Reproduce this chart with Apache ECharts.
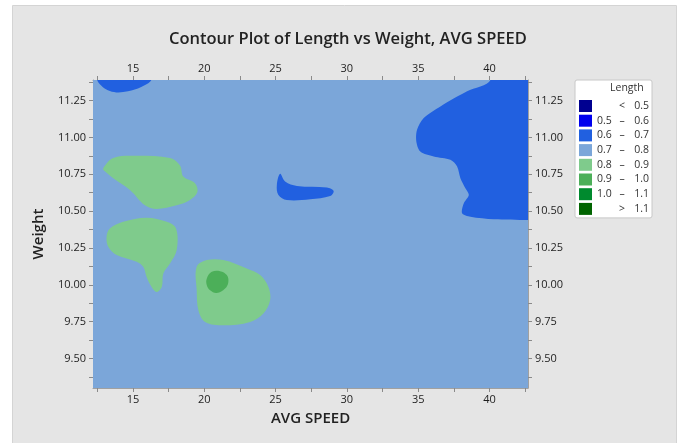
<!DOCTYPE html>
<html>
<head>
<meta charset="utf-8">
<script src="https://cdn.jsdelivr.net/npm/echarts@6/dist/echarts.min.js"></script>
<style>
  html, body { margin: 0; padding: 0; background: #ffffff; }
  #main { width: 683px; height: 443px; }
</style>
</head>
<body>
<div id="main"></div>
<script>
// ---------- data ----------
const xRange = [12.2, 42.7];
const yRange = [9.30, 11.39];
const xLabelValues = [15, 20, 25, 30, 35, 40];
const xTickValues = [12.5, 15, 17.5, 20, 22.5, 25, 27.5, 30, 32.5, 35, 37.5, 40, 42.5];
const yLabelValues = [9.5, 9.75, 10, 10.25, 10.5, 10.75, 11, 11.25];
const yTickValues = [9.375, 9.5, 9.625, 9.75, 9.875, 10, 10.125, 10.25, 10.375, 10.5, 10.625, 10.75, 10.875, 11, 11.125, 11.25, 11.375];

const bandNames = ['< 0.5', '0.5 – 0.6', '0.6 – 0.7', '0.7 – 0.8', '0.8 – 0.9', '0.9 – 1.0', '1.0 – 1.1', '> 1.1'];

// contour regions (AVG SPEED, Weight)
const regionBase = [[xRange[0], yRange[0]], [xRange[1], yRange[0]], [xRange[1], yRange[1]], [xRange[0], yRange[1]]];
const regionBlueTopLeft = [[12.3, 11.5], [12.49, 11.39], [12.77, 11.352], [13.24, 11.320], [13.83, 11.306], [14.65, 11.313], [15.58, 11.343], [16.29, 11.39], [16.5, 11.5]];
const regionBlueRight = [[39.8, 11.6], [40.07, 11.39], [38.43, 11.313], [36.56, 11.211], [35.39, 11.132], [34.92, 11.053], [34.87, 10.973], [35.15, 10.905], [36.09, 10.871], [37.26, 10.848], [37.73, 10.803], [37.96, 10.724], [38.31, 10.656], [38.55, 10.610], [38.20, 10.554], [38.08, 10.486], [38.67, 10.462], [40.30, 10.445], [42.7, 10.44], [43.2, 10.44], [43.2, 11.6]];
const regionBlueMid = [[25.32, 10.753], [25.67, 10.701], [26.50, 10.671], [28.60, 10.660], [29.07, 10.637], [28.83, 10.603], [27.43, 10.581], [25.79, 10.576], [25.20, 10.610], [25.09, 10.678]];
const regionGreenTop = [[12.91, 10.79], [13.62, 10.86], [15.02, 10.876], [17.60, 10.86], [18.30, 10.81], [18.53, 10.735], [19.35, 10.69], [19.52, 10.63], [19.0, 10.576], [18.07, 10.54], [16.66, 10.515], [15.84, 10.54], [14.79, 10.644], [13.62, 10.724], [13.03, 10.77]];
const regionGreenMid = [[13.15, 10.326], [13.38, 10.383], [14.32, 10.428], [15.96, 10.456], [17.37, 10.428], [18.02, 10.383], [18.07, 10.236], [17.60, 10.145], [17.13, 10.077], [17.02, 9.986], [16.66, 9.952], [16.31, 9.986], [15.96, 10.054], [15.72, 10.122], [15.26, 10.156], [13.86, 10.202], [13.27, 10.258]];
const regionGreenLow = [[19.47, 10.122], [20.18, 10.168], [21.34, 10.168], [22.98, 10.111], [23.92, 10.066], [24.50, 9.986], [24.62, 9.895], [24.15, 9.805], [23.22, 9.748], [21.34, 9.725], [20.06, 9.748], [19.59, 9.827], [19.47, 9.963]];
const regionDarkGreen = [[20.18, 10.043], [20.53, 10.088], [21.11, 10.093], [21.58, 10.066], [21.69, 10.020], [21.46, 9.975], [20.88, 9.945], [20.41, 9.963], [20.18, 9.997]];

// ---------- styles ----------
const bandColors = ['#000090', '#0000ee', '#2160e0', '#7ba6d9', '#7fcb8c', '#4caf59', '#008a2e', '#006400'];
const FONT = '"Open Sans", "Liberation Sans", sans-serif';

function regionSeries(bandIndex, region, smooth) {
  return {
    type: 'custom',
    name: bandNames[bandIndex],
    xAxisIndex: 0,
    yAxisIndex: 0,
    itemStyle: { color: bandColors[bandIndex] },
    data: region,
    silent: true,
    renderItem: function (params, api) {
      if (params.dataIndex !== 0) return null;
      const pts = region.map(function (p) { return api.coord(p); });
      const cs = params.coordSys;
      return {
        type: 'polygon',
        shape: { points: pts, smooth: smooth },
        style: { fill: bandColors[bandIndex], stroke: null },
        clipPath: { type: 'rect', shape: { x: cs.x, y: cs.y, width: cs.width, height: cs.height } }
      };
    }
  };
}
function emptySeries(bandIndex) {
  return {
    type: 'custom', name: bandNames[bandIndex], data: [],
    itemStyle: { color: bandColors[bandIndex] },
    renderItem: function () { return null; }
  };
}

const axisLabelStyle = { color: '#1e1e1e', fontSize: 11, fontFamily: FONT };
function xAxisDef(pos, withName) {
  return {
    type: 'value', position: pos, min: xRange[0], max: xRange[1],
    axisLine: { show: true, onZero: false, lineStyle: { color: '#a0a0a0', width: 1 } },
    axisTick: { show: true, length: 4, customValues: xTickValues, lineStyle: { color: '#8a8a8a' } },
    axisLabel: Object.assign({ customValues: xLabelValues, margin: 6 }, axisLabelStyle),
    splitLine: { show: false },
    name: withName ? 'AVG SPEED' : '',
    nameLocation: 'middle', nameGap: 23,
    nameTextStyle: { fontSize: 15, fontWeight: 600, color: '#222', fontFamily: FONT }
  };
}
function yAxisDef(pos, withName) {
  return {
    type: 'value', position: pos, min: yRange[0], max: yRange[1],
    axisLine: { show: true, onZero: false, lineStyle: { color: '#a0a0a0', width: 1 } },
    axisTick: { show: true, length: 4, customValues: yTickValues, lineStyle: { color: '#8a8a8a' } },
    axisLabel: Object.assign({ customValues: yLabelValues, margin: 7, formatter: function (v) { return v.toFixed(2); } }, axisLabelStyle),
    splitLine: { show: false },
    name: withName ? 'Weight' : '',
    nameLocation: 'middle', nameGap: 47,
    nameTextStyle: { fontSize: 15, fontWeight: 600, color: '#222', fontFamily: FONT }
  };
}

const chart = echarts.init(document.getElementById('main'), null, { renderer: 'canvas' });
chart.setOption({
  backgroundColor: '#ffffff',
  animation: false,
  graphic: [
    { type: 'rect', z: -10, silent: true, shape: { x: 12.5, y: 5.5, width: 664, height: 440 },
      style: { fill: '#e5e5e5', stroke: '#d4d4d4', lineWidth: 1 } },
    { type: 'text', z: 100, left: 610, top: 83, silent: true,
      style: { text: 'Length', fontSize: 10.5, fill: '#333', fontFamily: FONT } }
  ],
  title: {
    text: 'Contour Plot of Length vs Weight, AVG SPEED',
    left: 164, top: 26,
    textStyle: { fontSize: 16.5, fontWeight: 600, color: '#222', fontFamily: FONT }
  },
  grid: { left: 93, right: 155, top: 80, bottom: 55, containLabel: false },
  xAxis: [xAxisDef('bottom', true), xAxisDef('top', false)],
  yAxis: [yAxisDef('left', true), yAxisDef('right', false)],
  legend: {
    data: bandNames, orient: 'vertical', left: 575, top: 80,
    icon: 'rect', itemWidth: 13, itemHeight: 12, itemGap: 2.7,
    padding: [20, 3, 3, 4],
    backgroundColor: '#ffffff', borderColor: '#c8c8c8', borderWidth: 1, borderRadius: 2,
    selectedMode: false,
    formatter: function (name) {
      const parts = name.split(' ');
      const lo = parts.length === 3 ? parts[0] : '';
      const op = parts.length === 3 ? parts[1] : parts[0];
      const hi = parts[parts.length - 1];
      return '{lo|' + lo + '}{op|' + op + '}{hi|' + hi + '}';
    },
    textStyle: {
      fontSize: 10.5, color: '#333', fontFamily: FONT,
      rich: {
        lo: { width: 18, align: 'left', fontSize: 10.5, fontFamily: FONT, color: '#333' },
        op: { width: 14, align: 'center', fontSize: 10.5, fontFamily: FONT, color: '#333' },
        hi: { width: 20, align: 'right', fontSize: 10.5, fontFamily: FONT, color: '#333' }
      }
    }
  },
  series: [
    regionSeries(3, regionBase, 0),
    emptySeries(0),
    emptySeries(1),
    regionSeries(2, regionBlueTopLeft, 0.35),
    regionSeries(2, regionBlueRight, 0.3),
    regionSeries(2, regionBlueMid, 0.35),
    regionSeries(4, regionGreenTop, 0.35),
    regionSeries(4, regionGreenMid, 0.35),
    regionSeries(4, regionGreenLow, 0.35),
    regionSeries(5, regionDarkGreen, 0.4),
    emptySeries(6),
    emptySeries(7)
  ]
});
</script>
</body>
</html>
